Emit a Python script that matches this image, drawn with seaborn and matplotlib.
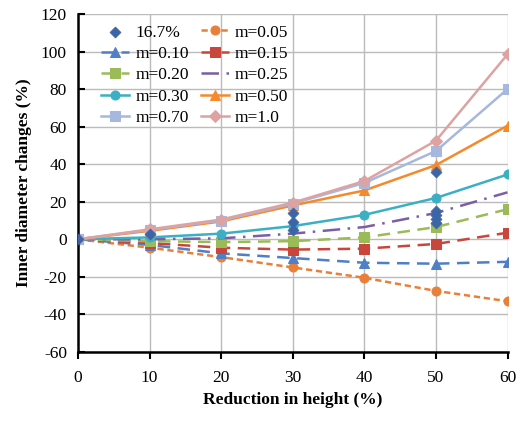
import pandas as pd
import seaborn as sns
import matplotlib.pyplot as plt
import numpy as np

reduction = [0, 10, 20, 30, 40, 50, 60]

m005 = [0, -4.5, -9.5, -15, -20.5, -27.5, -33]
m010 = [0, -3, -7.5, -10, -12.5, -13, -12]
m015 = [0, -2, -4.5, -5.5, -5, -2.5, 3.5]
m020 = [0, -1, -1.5, -1, 1, 6.5, 16]
m025 = [0, 0, 0.5, 3, 6.5, 14, 25]
m030 = [0, 1, 3, 7, 13, 22, 34.5]
m050 = [0, 4.5, 9.5, 18, 26, 39.5, 60.5]
m070 = [0, 5, 10, 19, 30, 47, 80]
m100 = [0, 5.3, 10.5, 19.5, 31, 52.5, 98.5]

# measured points for 16.7%
exp_x = [0, 10, 30, 30, 30, 50, 50, 50, 50, 50]
exp_y = [0, 3, 14, 9, 5, 36, 15, 13, 11, 8.5]

plt.rcParams['font.family'] = ['Liberation Serif', 'DejaVu Serif']
plt.rcParams['axes.unicode_minus'] = False

fig, ax = plt.subplots(figsize=(5.2, 4.23), dpi=100)
fig.subplots_adjust(left=0.15, right=0.976, top=0.967, bottom=0.168)

series = [
    ('m=0.05', m005, '#E8803A', 'o', (0, (2.5, 1.5))),
    ('m=0.10', m010, '#4F7FC4', '^', (0, (5, 3))),
    ('m=0.15', m015, '#C9463D', 's', (0, (5, 3))),
    ('m=0.20', m020, '#9BBB59', 's', (0, (5, 3))),
    ('m=0.25', m025, '#7B5EA7', None, (0, (7, 3, 1, 3))),
    ('m=0.30', m030, '#3BAFC4', 'o', '-'),
    ('m=0.50', m050, '#F58A2C', '^', '-'),
    ('m=0.70', m070, '#A7B8DE', 's', '-'),
    ('m=1.0', m100, '#DDA3A3', 'D', '-'),
]

handles = {}
for name, vals, col, mk, ls in series:
    sns.lineplot(x=reduction, y=vals, ax=ax, color=col, marker=mk, markersize=6.5,
                 markeredgecolor=col, linestyle=ls, linewidth=1.8, label=name)
    handles[name] = ax.lines[-1]

sns.scatterplot(x=exp_x, y=exp_y, ax=ax, color='#3C65A8', marker='D', s=32,
                edgecolor='#3C65A8', zorder=5, label='16.7%')
handles['16.7%'] = ax.collections[-1]

ax.set_xlim(0, 60)
ax.set_ylim(-60, 120)
ax.set_xticks(range(0, 61, 10))
ax.set_yticks(range(-60, 121, 20))
ax.grid(True, color='#BBBBBB', linewidth=1)
ax.set_axisbelow(True)
for s in ['top', 'right']:
    ax.spines[s].set_visible(False)
for s in ['left', 'bottom']:
    ax.spines[s].set_linewidth(1.8)
    ax.spines[s].set_color('black')
ax.tick_params(axis='y', direction='in', length=5, width=1.5, labelsize=12.5, pad=8)
ax.tick_params(axis='x', direction='out', length=5, width=1.5, labelsize=12.5, pad=8)

ax.set_xlabel('Reduction in height (%)', fontsize=12.5, fontweight='bold', labelpad=4)
ax.set_ylabel('Inner diameter changes (%)', fontsize=12.5, fontweight='bold', labelpad=6)

order = ['16.7%', 'm=0.10', 'm=0.20', 'm=0.30', 'm=0.70',
         'm=0.05', 'm=0.15', 'm=0.25', 'm=0.50', 'm=1.0']
ax.legend([handles[k] for k in order], order, ncol=2, frameon=False,
          loc='upper left', bbox_to_anchor=(0.03, 1.0), fontsize=12.5,
          handlelength=1.6, handletextpad=0.35, labelspacing=0.3,
          columnspacing=0.7, borderaxespad=0.2)

plt.savefig('out.png', dpi=100)
